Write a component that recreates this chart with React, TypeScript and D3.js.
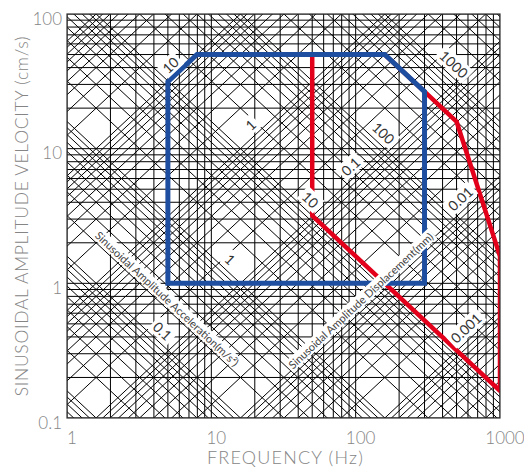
import React, { useEffect, useRef } from "react";
import * as d3 from "d3";

const W = 524;
const H = 468;
const margin = { top: 14, right: 24, bottom: 50, left: 67 };

// axis ticks
const freqTicks = [1, 10, 100, 1000];
const velocityTicks = [0.1, 1, 10, 100];
const gridSteps = [1, 2, 3, 4, 5, 6, 7, 8, 9];
const freqDecades = [1, 10, 100];
const velDecades = [0.1, 1, 10];
const dispDecades = [0.0001, 0.001, 0.01, 0.1, 1, 10, 100];
const accDecades = [0.001, 0.01, 0.1, 1, 10, 100, 1000];

// test profiles: [frequency Hz, velocity cm/s]
const blueProfile: [number, number][] = [
  [5, 1], [5, 31.4], [7.96, 50], [159, 50], [300, 26.5], [300, 1],
];
const redProfile: [number, number][] = [
  [159, 50], [50, 50], [50, 3.18], [1000, 0.159], [1000, 1.59], [500, 15.9], [300, 26.5],
];

// diagonal scale labels
const dispLabels = [
  { text: "10", value: 10, freq: 5.2 },
  { text: "1", value: 1, freq: 18.7 },
  { text: "0.1", value: 0.1, freq: 92 },
  { text: "0.01", value: 0.01, freq: 530 },
  { text: "0.001", value: 0.001, freq: 580 },
];
const accLabels = [
  { text: "0.1", value: 0.1, freq: 4.6 },
  { text: "1", value: 1, freq: 13.5 },
  { text: "10", value: 10, freq: 48.7 },
  { text: "100", value: 100, freq: 156 },
  { text: "1000", value: 1000, freq: 480 },
];
const titles = [
  { text: "Sinusoidal Amplitude Acceleration(m/s²)", kind: "acc", value: 0.24, freq: 4.95 },
  { text: "Sinusoidal Amplitude Displacement(mm)", kind: "disp", value: 0.011, freq: 108 },
];

// velocity (cm/s) from displacement (mm) / acceleration (m/s^2)
const vFromDisp = (d: number, f: number) => (2 * Math.PI * f * d) / 10;
const vFromAcc = (a: number, f: number) => (100 * a) / (2 * Math.PI * f);

const FONT = "Lato, 'Noto Sans', sans-serif";

const App = () => {
  const ref = useRef<SVGSVGElement>(null);

  useEffect(() => {
    const svg = d3.select(ref.current);
    svg.selectAll("*").remove();

    const x = d3.scaleLog().domain([1, 1000]).range([margin.left, W - margin.right]);
    const y = d3.scaleLog().domain([0.1, 100]).range([H - margin.bottom, margin.top]);
    const angle =
      (Math.atan((y(1) - y(10)) / (x(10) - x(1))) * 180) / Math.PI;

    svg.append("defs").append("clipPath").attr("id", "plot-clip")
      .append("rect")
      .attr("x", x(1)).attr("y", y(100))
      .attr("width", x(1000) - x(1)).attr("height", y(0.1) - y(100));

    const plot = svg.append("g").attr("clip-path", "url(#plot-clip)");

    const gridF = freqDecades.flatMap(d => gridSteps.map(k => k * d)).concat([1000]);
    const gridV = velDecades.flatMap(d => gridSteps.map(k => k * d)).concat([100]);
    const gridD = dispDecades.flatMap(d => gridSteps.map(k => k * d));
    const gridA = accDecades.flatMap(d => gridSteps.map(k => k * d));

    plot.selectAll(".vline").data(gridF).enter().append("line")
      .attr("x1", d => x(d)).attr("x2", d => x(d))
      .attr("y1", y(0.1)).attr("y2", y(100))
      .attr("stroke", "#000").attr("stroke-width", 1);

    plot.selectAll(".hline").data(gridV).enter().append("line")
      .attr("x1", x(1)).attr("x2", x(1000))
      .attr("y1", d => y(d)).attr("y2", d => y(d))
      .attr("stroke", "#000").attr("stroke-width", 1);

    // constant displacement lines (rising)
    plot.selectAll(".dline").data(gridD).enter().append("line")
      .attr("x1", x(1)).attr("y1", d => y(vFromDisp(d, 1)))
      .attr("x2", x(1000)).attr("y2", d => y(vFromDisp(d, 1000)))
      .attr("stroke", "#000").attr("stroke-width", 1);

    // constant acceleration lines (falling)
    plot.selectAll(".aline").data(gridA).enter().append("line")
      .attr("x1", x(1)).attr("y1", d => y(vFromAcc(d, 1)))
      .attr("x2", x(1000)).attr("y2", d => y(vFromAcc(d, 1000)))
      .attr("stroke", "#000").attr("stroke-width", 1);

    const line = d3.line<[number, number]>().x(d => x(d[0])).y(d => y(d[1]));

    plot.append("path")
      .attr("d", line(redProfile) + "Z")
      .attr("fill", "none").attr("stroke", "#e3001b")
      .attr("stroke-width", 4.5).attr("stroke-linejoin", "round");

    plot.append("path")
      .attr("d", line(blueProfile) + "Z")
      .attr("fill", "none").attr("stroke", "#1d4e9f")
      .attr("stroke-width", 5).attr("stroke-linejoin", "miter");

    // frame
    svg.append("rect")
      .attr("x", x(1)).attr("y", y(100))
      .attr("width", x(1000) - x(1)).attr("height", y(0.1) - y(100))
      .attr("fill", "none").attr("stroke", "#333").attr("stroke-width", 1.2);

    const addBoxedText = (
      cx: number, cy: number, rot: number, text: string,
      size: number, color: string, padX: number, padY: number
    ) => {
      const g = svg.append("g").attr("transform", `translate(${cx},${cy}) rotate(${rot})`);
      const rect = g.append("rect").attr("fill", "#fff");
      const t = g.append("text")
        .attr("text-anchor", "middle").attr("dominant-baseline", "central")
        .attr("font-family", FONT).attr("font-size", size).attr("fill", color)
        .text(text);
      const bb = (t.node() as SVGTextElement).getBBox();
      rect.attr("x", bb.x - padX).attr("y", bb.y - padY)
        .attr("width", bb.width + 2 * padX).attr("height", bb.height + 2 * padY);
    };

    dispLabels.forEach(l => {
      addBoxedText(x(l.freq), y(vFromDisp(l.value * 1.28, l.freq)), -angle, l.text, 14, "#333", 3, 0);
    });
    accLabels.forEach(l => {
      addBoxedText(x(l.freq), y(vFromAcc(l.value * 1.28, l.freq)), angle, l.text, 14, "#333", 3, 0);
    });
    titles.forEach(t => {
      const v = t.kind === "acc" ? vFromAcc(t.value, t.freq) : vFromDisp(t.value, t.freq);
      addBoxedText(x(t.freq), y(v), t.kind === "acc" ? angle : -angle, t.text, 11, "#444", 2, 0);
    });

    // tick labels
    svg.selectAll(".xt").data(freqTicks).enter().append("text")
      .attr("x", d => x(d) + 5).attr("y", y(0.1) + 26)
      .attr("text-anchor", "middle")
      .attr("font-family", FONT).attr("font-size", 17).attr("font-weight", 300)
      .attr("fill", "#858585")
      .text(d => String(d));

    svg.selectAll(".yt").data(velocityTicks).enter().append("text")
      .attr("x", x(1) - 5).attr("y", d => y(d) + 4)
      .attr("text-anchor", "end").attr("dominant-baseline", "central")
      .attr("font-family", FONT).attr("font-size", 17).attr("font-weight", 300)
      .attr("fill", "#858585")
      .text(d => String(d));

    svg.append("text")
      .attr("x", (x(1) + x(1000)) / 2 + 2).attr("y", H - 4)
      .attr("text-anchor", "middle")
      .attr("font-family", FONT).attr("font-size", 18).attr("font-weight", 300)
      .attr("letter-spacing", 1.2)
      .attr("fill", "#858585")
      .text("FREQUENCY (Hz)");

    svg.append("text")
      .attr("transform", `translate(28,${(y(0.1) + y(100)) / 2}) rotate(-90)`)
      .attr("text-anchor", "middle")
      .attr("font-family", FONT).attr("font-size", 17.5).attr("font-weight", 300)
      .attr("letter-spacing", 0.7)
      .attr("fill", "#858585")
      .text("SINUSOIDAL AMPLITUDE VELOCITY (cm/s)");
  }, []);

  return (
    <div style={{ position: "fixed", left: 0, top: 0, background: "#fff" }}>
      <svg ref={ref} width={W} height={H} style={{ display: "block" }} />
    </div>
  );
};

export default App;
